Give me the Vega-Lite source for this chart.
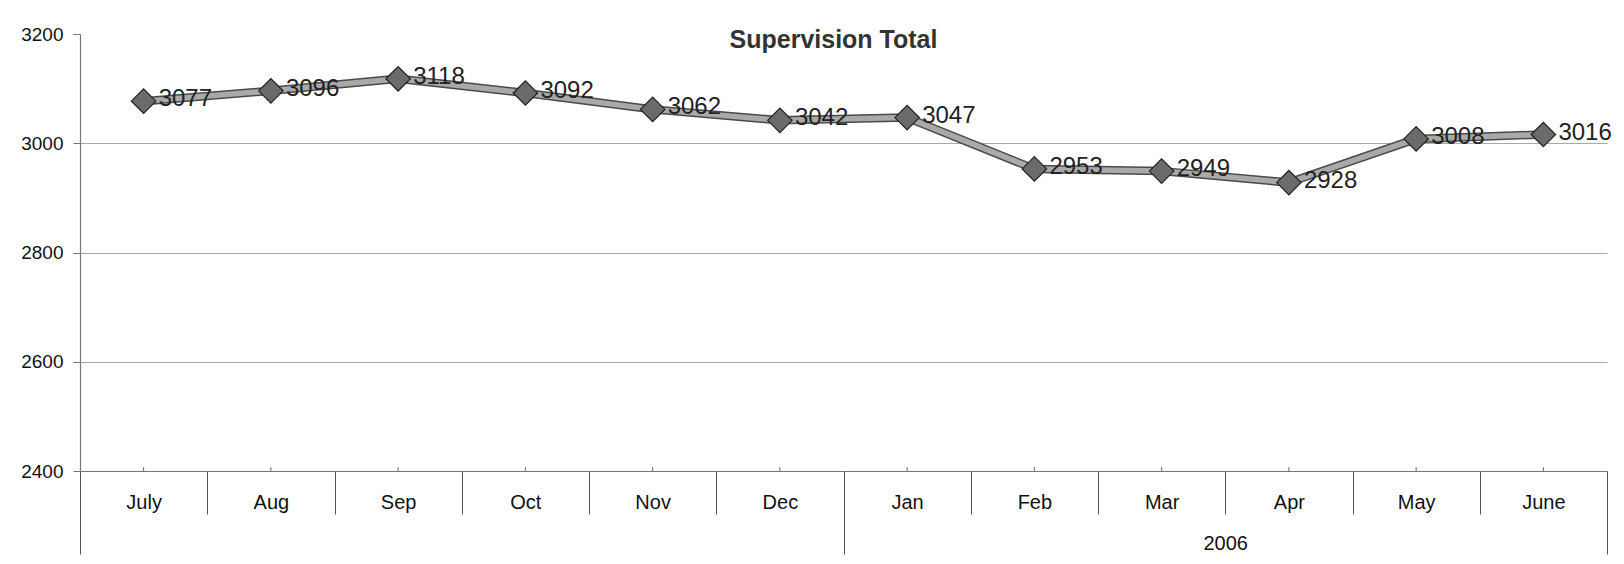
{
  "$schema": "https://vega.github.io/schema/vega-lite/v6.json",
  "autosize": {"type": "none"},
  "width": 1527,
  "height": 437,
  "padding": {"left": 80, "top": 34, "right": 17, "bottom": 93},
  "background": "white",
  "config": {
    "font": "Liberation Sans",
    "view": {"stroke": null}
  },
  "title": {
    "text": "Supervision Total",
    "fontSize": 25,
    "fontWeight": "bold",
    "color": "#333333",
    "font": "Liberation Sans",
    "baseline": "alphabetic",
    "offset": -14,
    "dy": 34,
    "dx": -10,
    "anchor": "middle"
  },
  "datasets": {
    "months": [
      {"month": "July", "value": 3077},
      {"month": "Aug", "value": 3096},
      {"month": "Sep", "value": 3118},
      {"month": "Oct", "value": 3092},
      {"month": "Nov", "value": 3062},
      {"month": "Dec", "value": 3042},
      {"month": "Jan", "value": 3047},
      {"month": "Feb", "value": 2953},
      {"month": "Mar", "value": 2949},
      {"month": "Apr", "value": 2928},
      {"month": "May", "value": 3008},
      {"month": "June", "value": 3016}
    ],
    "years": [
      {"year": "2005"},
      {"year": "2006"}
    ]
  },
  "layer": [
    {
      "data": {"name": "months"},
      "encoding": {
        "x": {
          "field": "month",
          "type": "nominal",
          "sort": null,
          "bandPosition": 0.5,
          "scale": {"type": "band", "paddingInner": 0, "paddingOuter": 0},
          "axis": {
            "title": null,
            "orient": "bottom",
            "domainColor": "#777777",
            "domainWidth": 1.2,
            "tickBand": "extent",
            "tickSize": 43,
            "tickColor": "#555555",
            "tickWidth": 1,
            "labelAngle": 0,
            "labelFontSize": 20,
            "labelColor": "#111111",
            "labelFont": "Liberation Sans",
            "labelBaseline": "alphabetic",
            "labelPadding": -6,
            "grid": false
          }
        },
        "y": {
          "field": "value",
          "type": "quantitative",
          "scale": {"domain": [2400, 3200], "zero": false, "nice": false},
          "axis": {
            "title": null,
            "format": "d",
            "values": [2400, 2600, 2800, 3000, 3200],
            "domainColor": "#777777",
            "domainWidth": 1.2,
            "tickColor": "#777777",
            "tickSize": 7,
            "labelPadding": 10,
            "labelFontSize": 19,
            "labelColor": "#111111",
            "labelFont": "Liberation Sans",
            "grid": true,
            "gridColor": "#a8a8a8",
            "gridWidth": 1,
            "gridOpacity": {"condition": {"test": "datum.value == 3200 || datum.value == 2400", "value": 0}, "value": 1}
          }
        }
      },
      "layer": [
        {
          "mark": {"type": "rule", "color": "#666666", "strokeWidth": 1},
          "encoding": {
            "y": {"datum": 2400},
            "y2": {"datum": 2407}
          }
        },
        {
          "mark": {"type": "line", "color": "#4a4a4a", "strokeWidth": 8.5, "strokeJoin": "round"}
        },
        {
          "mark": {"type": "line", "color": "#a9a9a9", "strokeWidth": 5.5, "strokeJoin": "round"}
        },
        {
          "mark": {"type": "point", "shape": "diamond", "filled": true, "size": 600, "fill": "#6b6b6b", "stroke": "#222222", "strokeWidth": 1.2, "opacity": 1}
        },
        {
          "mark": {"type": "text", "align": "left", "baseline": "middle", "dx": 15, "dy": -2, "fontSize": 24, "font": "Liberation Sans", "color": "#222222"},
          "encoding": {"text": {"field": "value", "type": "quantitative", "format": "d"}}
        }
      ]
    },
    {
      "data": {"name": "years"},
      "mark": {"type": "point", "opacity": 0},
      "encoding": {
        "x": {
          "field": "year",
          "type": "nominal",
          "sort": null,
          "scale": {"type": "band", "paddingInner": 0, "paddingOuter": 0},
          "axis": {
            "title": null,
            "orient": "bottom",
            "domain": false,
            "tickBand": "extent",
            "tickSize": 83,
            "tickColor": "#555555",
            "tickWidth": 1,
            "labelAngle": 0,
            "labelFontSize": 20,
            "labelColor": "#111111",
            "labelFont": "Liberation Sans",
            "labelBaseline": "alphabetic",
            "labelPadding": -5,
            "labelExpr": "datum.value == '2006' ? '2006' : ''",
            "grid": false
          }
        }
      }
    }
  ],
  "resolve": {"scale": {"x": "independent"}, "axis": {"x": "independent"}}
}
